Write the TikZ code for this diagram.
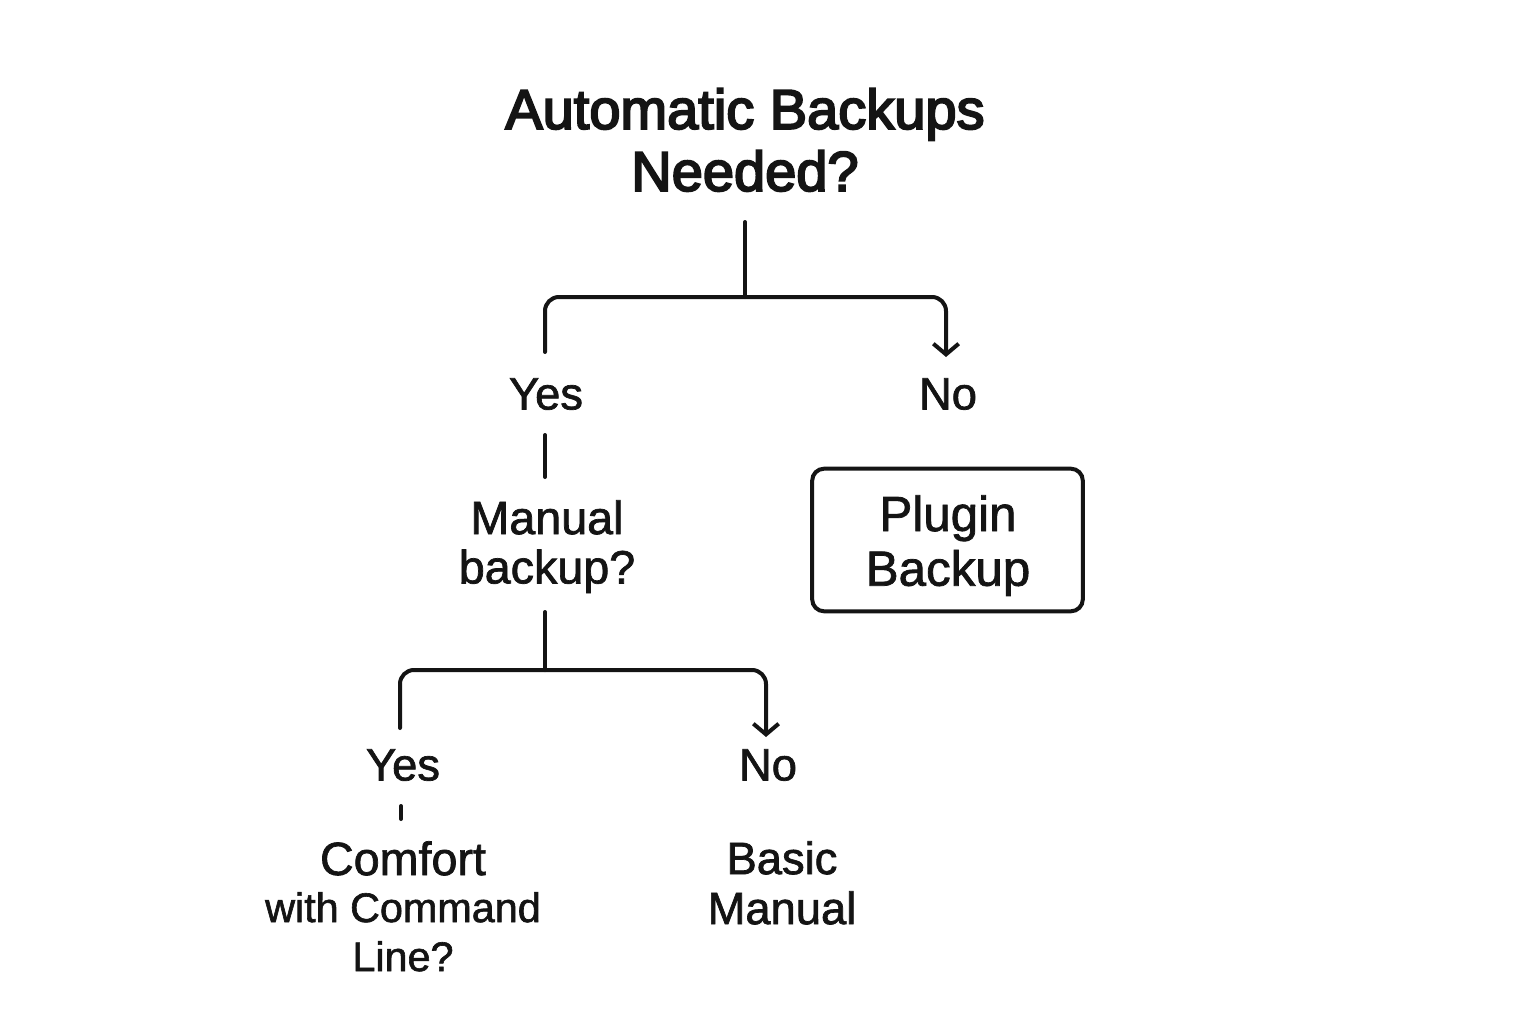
\documentclass[tikz,border=0pt]{standalone}
\usepackage{fontspec}
\setmainfont{Liberation Sans}
\newfontfamily\titlefont[FakeBold=3.5]{Liberation Sans}
\newfontfamily\lblfont[FakeBold=1.5]{Liberation Sans}
\usetikzlibrary{arrows.meta}
\begin{document}
\begin{tikzpicture}[x=0.75pt,y=-0.75pt,
  ln/.style={line width=3pt, line cap=round, line join=round, draw=black!92},
  tip/.style={-{Straight Barb[length=8pt,width=19pt]}},
  lbl/.style={inner sep=0pt, align=center, anchor=north, text=black!92,
    font=\lblfont\fontsize{34}{36}\selectfont},
  ttl/.style={inner sep=0pt, align=center, anchor=north, text=black!92,
    font=\titlefont\fontsize{42}{46.5}\selectfont},
  boxnode/.style={draw=black!92, line width=3pt, rounded corners=9pt,
    minimum width=203pt, minimum height=107pt, inner sep=0pt}]
\useasboundingbox[fill=white] (0,0) rectangle (1536,1024);

% texts
\node[ttl] (title) at (745,88) {Automatic Backups\\Needed?};
\node[lbl] (yes1) at (546,378) {Yes};
\node[lbl] (no1) at (948,378) {No};
\node[lbl, font=\lblfont\fontsize{35}{37}\selectfont] (manual) at (547,500) {Manual\\backup?};
\node[boxnode] (plugin) at (947.5,540) {};
\node[lbl, font=\lblfont\fontsize{37}{41}\selectfont] (plugintext) at (948,495) {Plugin\\Backup};
\node[lbl] (yes2) at (403,749) {Yes};
\node[lbl] (no2) at (768,749) {No};
\node[lbl, font=\lblfont\fontsize{31}{35.25}\selectfont] (comfort) at (403,841)
  {{\fontsize{35}{36}\selectfont Comfort}\\with Command\\[1.5pt]Line?};
\node[lbl, font=\lblfont\fontsize{34}{37.5}\selectfont] (basic) at (782,841) {Basic\\Manual};

% first split
\coordinate (t0) at (745,222);
\coordinate (j1) at (745,297);
\coordinate (y1top) at (545,352);
\coordinate (n1top) at (946,357);
\draw[ln] (t0) -- (j1);
\draw[ln, rounded corners=10.5pt] (y1top) |- (j1);
\draw[ln, tip, rounded corners=10.5pt] (j1) -| (n1top);

% yes -> manual
\coordinate (y1a) at (545,435);
\coordinate (y1b) at (545,477);
\draw[ln] (y1a) -- (y1b);

% second split
\coordinate (m0) at (545,612);
\coordinate (j2) at (545,670);
\coordinate (y2top) at (400,728);
\coordinate (n2top) at (766,737);
\draw[ln] (m0) -- (j2);
\draw[ln, rounded corners=10.5pt] (y2top) |- (j2);
\draw[ln, tip, rounded corners=10.5pt] (j2) -| (n2top);

% yes -> comfort tick
\coordinate (y2a) at (401,806);
\coordinate (y2b) at (401,819);
\draw[ln] (y2a) -- (y2b);
\end{tikzpicture}
\end{document}
